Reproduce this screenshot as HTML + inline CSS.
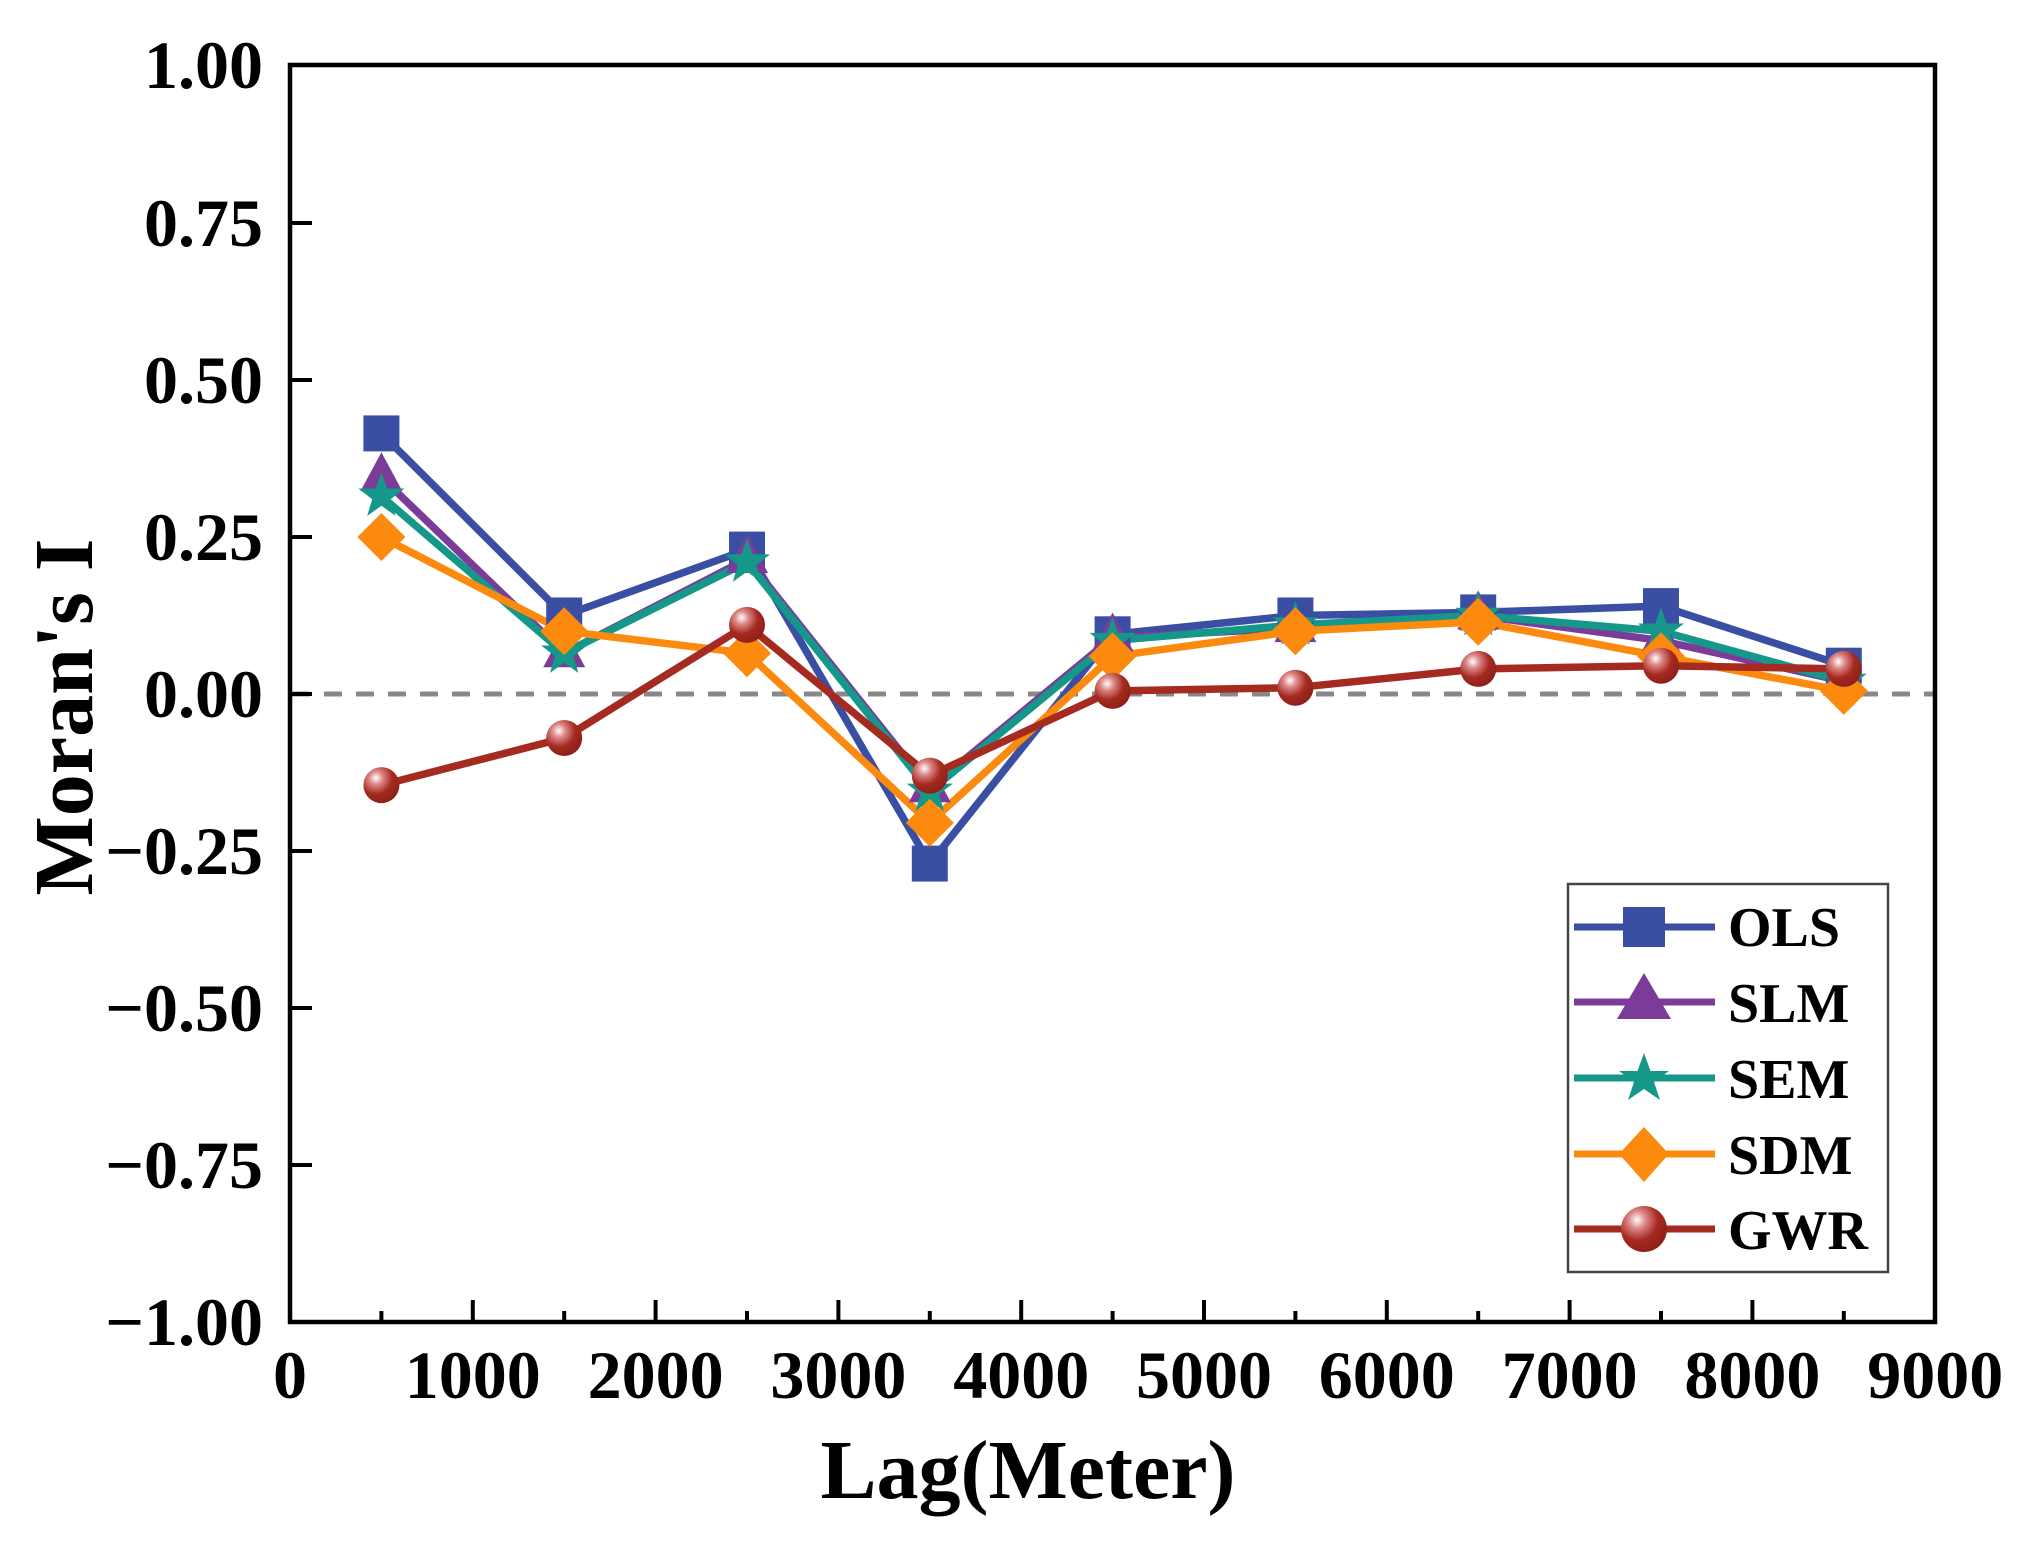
<!DOCTYPE html>
<html><head><meta charset="utf-8"><style>
html,body{margin:0;padding:0;background:#fff;}
svg{display:block;}
text{font-family:"Liberation Serif",serif;font-weight:bold;fill:#000;}
</style></head><body>
<svg width="2026" height="1542" viewBox="0 0 2026 1542" xmlns="http://www.w3.org/2000/svg">
<defs>
<radialGradient id="gb" cx="0.35" cy="0.3" r="0.75">
<stop offset="0" stop-color="#fff"/><stop offset="0.25" stop-color="#d88"/><stop offset="0.6" stop-color="#a52a20"/><stop offset="1" stop-color="#8a1f18"/>
</radialGradient>
<g id="sq"><rect x="-18" y="-18" width="36" height="36" fill="#3a4fa3"/></g>
<g id="tri"><polygon points="0,-25 21,14 -21,14" fill="#7a3c98"/></g>
<g id="star"><polygon points="0,-24 5.7,-7.7 23,-7.7 9.2,3 14.2,19.7 0,9.6 -14.2,19.7 -9.2,3 -23,-7.7 -5.7,-7.7" fill="#15978a"/></g>
<g id="dia"><polygon points="0,-24 24,0 0,24 -24,0" fill="#fb8a0e"/></g>
<g id="ball"><circle r="18" fill="url(#gb)"/></g>
</defs>

<line x1="292" y1="694" x2="1933" y2="694" stroke="#888" stroke-width="5" stroke-dasharray="18,14"/>

<g fill="none" stroke-width="7.5" stroke-linejoin="round">
<polyline stroke="#3a4fa3" points="381.4,433.4 564.2,615.5 747,549.6 929.8,863.6 1112.6,634.3 1295.4,615.5 1478.2,612.4 1661,606.1 1843.8,665.7"/>
<polyline stroke="#7a3c98" points="381.4,477.3 564.2,653.2 747,559 929.8,788.2 1112.6,637.5 1295.4,628.1 1478.2,615.5 1661,640.6 1843.8,681.4"/>
<polyline stroke="#15978a" points="381.4,496.2 564.2,653.2 747,562.1 929.8,791.3 1112.6,640.6 1295.4,624.9 1478.2,615.5 1661,631.2 1843.8,681.4"/>
<polyline stroke="#fb8a0e" points="381.4,537 564.2,631.2 747,653.2 929.8,822.7 1112.6,656.3 1295.4,631.2 1478.2,621.8 1661,656.3 1843.8,690.9"/>
<polyline stroke="#a52a20" points="381.4,785.1 564.2,738 747,624.9 929.8,775.6 1112.6,690.9 1295.4,687.7 1478.2,668.9 1661,665.7 1843.8,668.9"/>
</g>

<use href="#sq" x="381.4" y="433.4"/><use href="#sq" x="564.2" y="615.5"/><use href="#sq" x="747" y="549.6"/><use href="#sq" x="929.8" y="863.6"/><use href="#sq" x="1112.6" y="634.3"/><use href="#sq" x="1295.4" y="615.5"/><use href="#sq" x="1478.2" y="612.4"/><use href="#sq" x="1661" y="606.1"/><use href="#sq" x="1843.8" y="665.7"/>
<use href="#tri" x="381.4" y="477.3"/><use href="#tri" x="564.2" y="653.2"/><use href="#tri" x="747" y="559"/><use href="#tri" x="929.8" y="788.2"/><use href="#tri" x="1112.6" y="637.5"/><use href="#tri" x="1295.4" y="628.1"/><use href="#tri" x="1478.2" y="615.5"/><use href="#tri" x="1661" y="640.6"/><use href="#tri" x="1843.8" y="681.4"/>
<use href="#star" x="381.4" y="496.2"/><use href="#star" x="564.2" y="653.2"/><use href="#star" x="747" y="562.1"/><use href="#star" x="929.8" y="791.3"/><use href="#star" x="1112.6" y="640.6"/><use href="#star" x="1295.4" y="624.9"/><use href="#star" x="1478.2" y="615.5"/><use href="#star" x="1661" y="631.2"/><use href="#star" x="1843.8" y="681.4"/>
<use href="#dia" x="381.4" y="537"/><use href="#dia" x="564.2" y="631.2"/><use href="#dia" x="747" y="653.2"/><use href="#dia" x="929.8" y="822.7"/><use href="#dia" x="1112.6" y="656.3"/><use href="#dia" x="1295.4" y="631.2"/><use href="#dia" x="1478.2" y="621.8"/><use href="#dia" x="1661" y="656.3"/><use href="#dia" x="1843.8" y="690.9"/>
<use href="#ball" x="381.4" y="785.1"/><use href="#ball" x="564.2" y="738"/><use href="#ball" x="747" y="624.9"/><use href="#ball" x="929.8" y="775.6"/><use href="#ball" x="1112.6" y="690.9"/><use href="#ball" x="1295.4" y="687.7"/><use href="#ball" x="1478.2" y="668.9"/><use href="#ball" x="1661" y="665.7"/><use href="#ball" x="1843.8" y="668.9"/>

<rect x="290" y="65" width="1645" height="1257" fill="none" stroke="#000" stroke-width="4.5"/>

<g stroke="#000" stroke-width="4">
<line x1="290" y1="223" x2="312" y2="223"/><line x1="290" y1="380" x2="312" y2="380"/><line x1="290" y1="537" x2="312" y2="537"/><line x1="290" y1="694" x2="312" y2="694"/><line x1="290" y1="851" x2="312" y2="851"/><line x1="290" y1="1008" x2="312" y2="1008"/><line x1="290" y1="1165" x2="312" y2="1165"/>
<line x1="472.8" y1="1322" x2="472.8" y2="1300"/><line x1="655.6" y1="1322" x2="655.6" y2="1300"/><line x1="838.4" y1="1322" x2="838.4" y2="1300"/><line x1="1021.2" y1="1322" x2="1021.2" y2="1300"/><line x1="1204" y1="1322" x2="1204" y2="1300"/><line x1="1386.8" y1="1322" x2="1386.8" y2="1300"/><line x1="1569.6" y1="1322" x2="1569.6" y2="1300"/><line x1="1752.4" y1="1322" x2="1752.4" y2="1300"/>
<line x1="381.4" y1="1322" x2="381.4" y2="1311"/><line x1="564.2" y1="1322" x2="564.2" y2="1311"/><line x1="747" y1="1322" x2="747" y2="1311"/><line x1="929.8" y1="1322" x2="929.8" y2="1311"/><line x1="1112.6" y1="1322" x2="1112.6" y2="1311"/><line x1="1295.4" y1="1322" x2="1295.4" y2="1311"/><line x1="1478.2" y1="1322" x2="1478.2" y2="1311"/><line x1="1661" y1="1322" x2="1661" y2="1311"/><line x1="1843.8" y1="1322" x2="1843.8" y2="1311"/>
</g>

<g font-size="68" text-anchor="end">
<text x="263" y="88">1.00</text>
<text x="263" y="246">0.75</text>
<text x="263" y="403">0.50</text>
<text x="263" y="560">0.25</text>
<text x="263" y="717">0.00</text>
<text x="263" y="874">−0.25</text>
<text x="263" y="1031">−0.50</text>
<text x="263" y="1188">−0.75</text>
<text x="263" y="1345">−1.00</text>
</g>
<g font-size="68" text-anchor="middle">
<text x="290" y="1398">0</text>
<text x="472.8" y="1398">1000</text>
<text x="655.6" y="1398">2000</text>
<text x="838.4" y="1398">3000</text>
<text x="1021.2" y="1398">4000</text>
<text x="1204" y="1398">5000</text>
<text x="1386.8" y="1398">6000</text>
<text x="1569.6" y="1398">7000</text>
<text x="1752.4" y="1398">8000</text>
<text x="1935.2" y="1398">9000</text>
</g>

<text x="1028" y="1498" font-size="84" text-anchor="middle">Lag(Meter)</text>
<text transform="translate(92,717) rotate(-90)" font-size="84" text-anchor="middle">Moran's I</text>

<rect x="1568" y="884" width="320" height="388" fill="#fff" stroke="#444" stroke-width="2.5"/>
<g stroke-width="7">
<line x1="1574" y1="927" x2="1715" y2="927" stroke="#3a4fa3"/>
<line x1="1574" y1="1002" x2="1715" y2="1002" stroke="#7a3c98"/>
<line x1="1574" y1="1078" x2="1715" y2="1078" stroke="#15978a"/>
<line x1="1574" y1="1154" x2="1715" y2="1154" stroke="#fb8a0e"/>
<line x1="1574" y1="1229" x2="1715" y2="1229" stroke="#a52a20"/>
</g>
<rect x="1623" y="907" width="42" height="40" fill="#3a4fa3"/>
<polygon points="1644,973 1671,1019 1617,1019" fill="#7a3c98"/>
<polygon points="1644,1053 1650.5,1071 1669,1071 1654,1082 1660,1100 1644,1089 1628,1100 1634,1082 1619,1071 1637.5,1071" fill="#15978a"/>
<polygon points="1644,1127 1669,1154 1644,1182 1619,1154" fill="#fb8a0e"/>
<circle cx="1644" cy="1229" r="23" fill="url(#gb)"/>
<g font-size="56">
<text x="1728" y="946">OLS</text>
<text x="1728" y="1022">SLM</text>
<text x="1728" y="1098">SEM</text>
<text x="1728" y="1174">SDM</text>
<text x="1728" y="1249">GWR</text>
</g>
</svg>
</body></html>
